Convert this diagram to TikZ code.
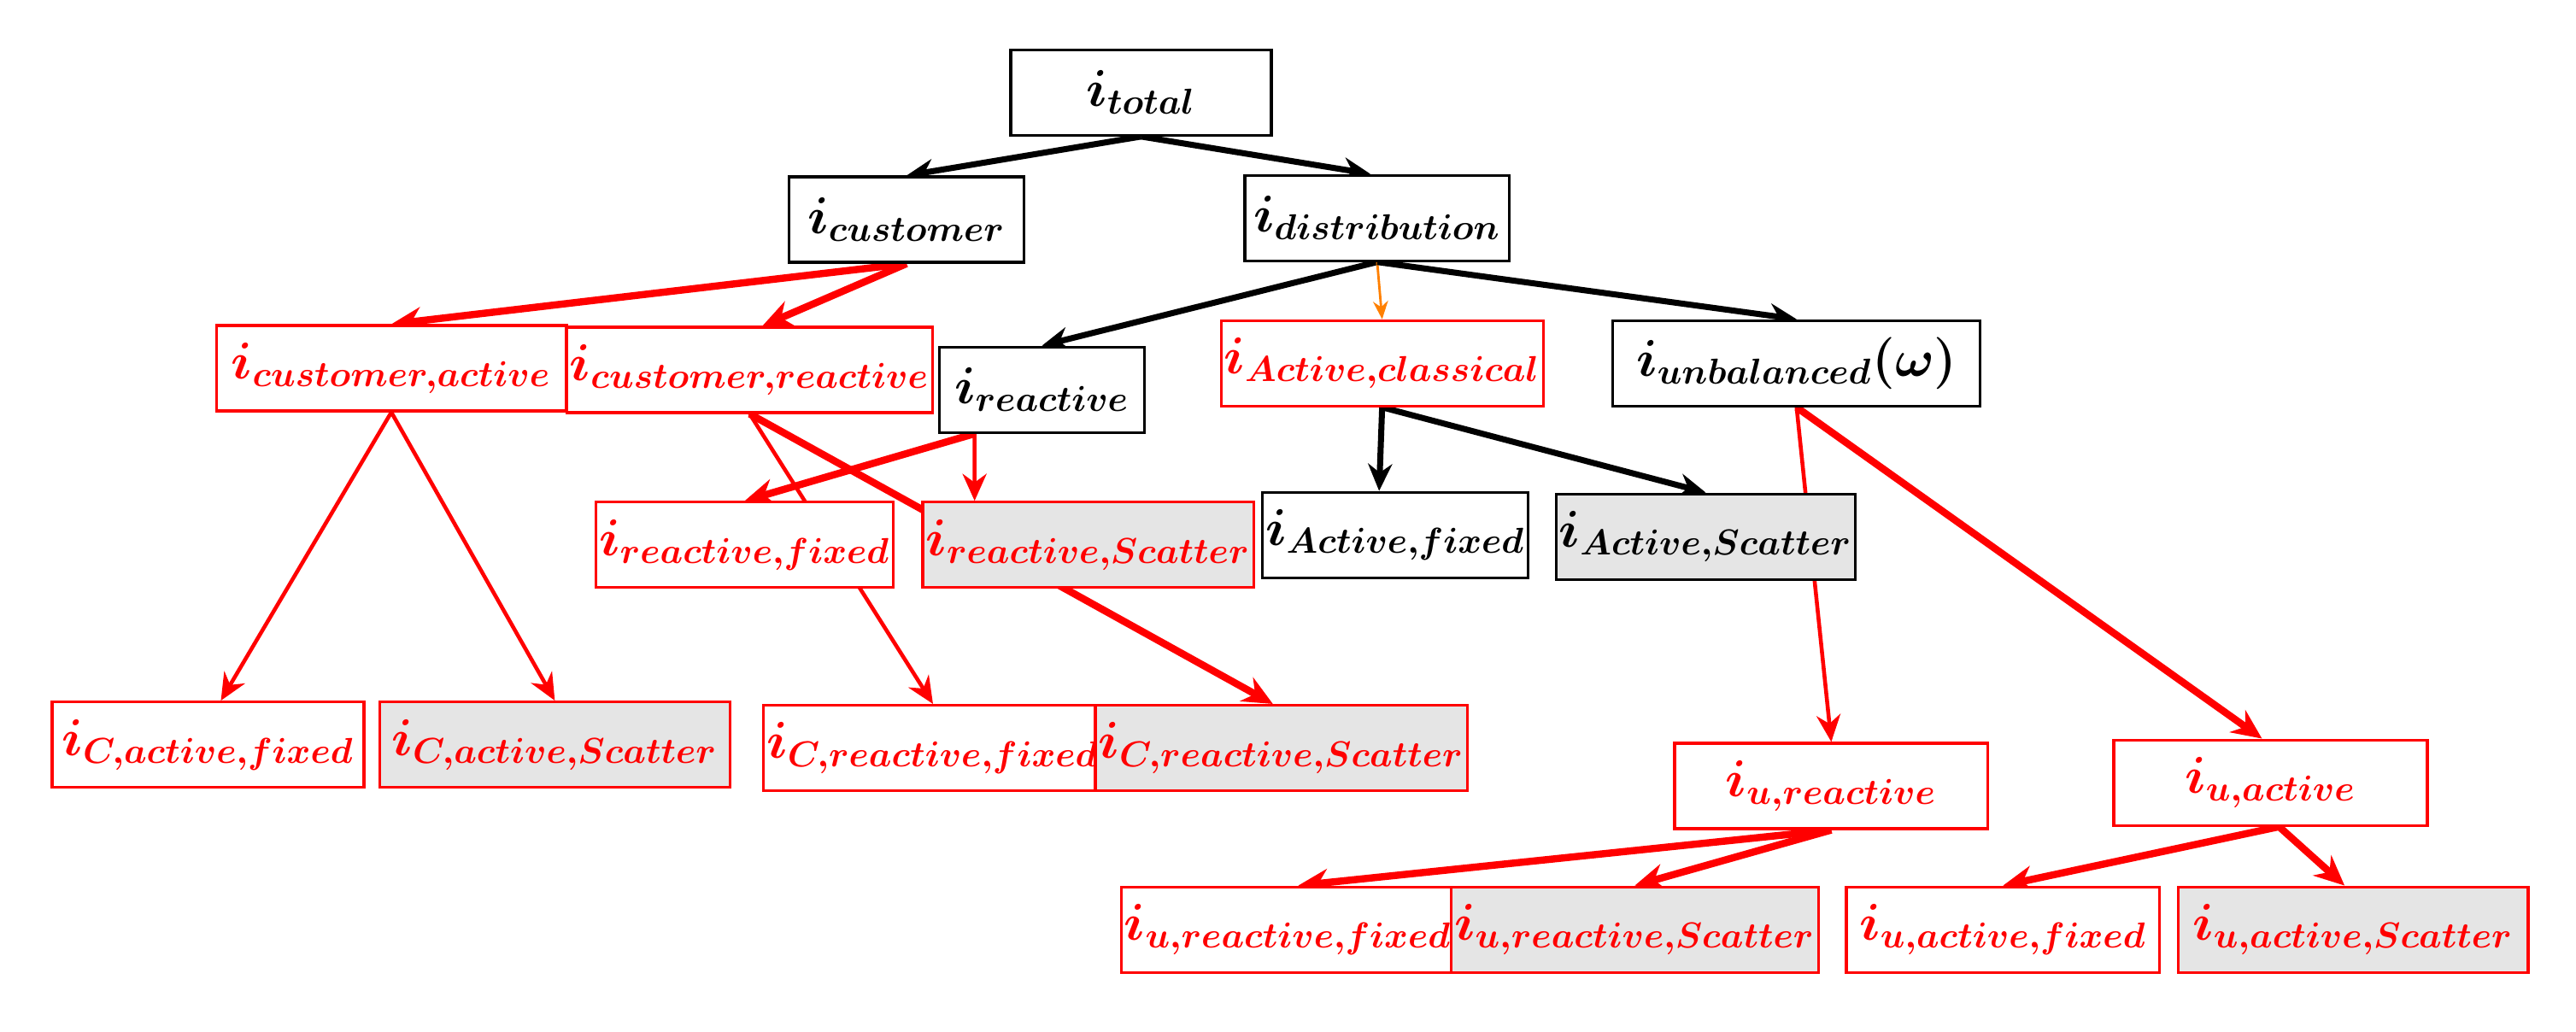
\documentclass[tikz,border=0pt]{standalone}
\usepackage{amsmath,bm}
\usetikzlibrary{arrows.meta}
\pgfdeclarelayer{back}
\pgfsetlayers{back,main}

\begin{document}
\begin{tikzpicture}[
    x=0.01933cm,y=-0.01933cm,
    every node/.style={align=center,font=\LARGE,inner sep=1pt},
    blackbox/.style={rectangle,draw=black,fill=white,line width=0.9pt,minimum height=1cm},
    redbox/.style={rectangle,draw=red,fill=white,text=red,line width=0.9pt,minimum height=1cm},
    grey/.style={fill=black!10},
    arrow/.style={-{Stealth[length=9pt,width=8pt]},line width=2pt},
    redarrow/.style={-{Stealth[length=9pt,width=8pt]},line width=1.3pt,red},
    boldred/.style={-{Stealth[length=10pt,width=9pt]},line width=2.4pt,red}
]
\useasboundingbox (0,0) rectangle (1560,625);

% =====================
% TOP
% =====================
\node[blackbox,minimum width=3.05cm] (total) at (691,56) {$\bm{i_{total}}$};
\node[blackbox,minimum width=2.75cm] (customer) at (549,133) {$\bm{i_{customer}}$};
\node[blackbox,minimum width=3.1cm] (distribution) at (834,132) {$\bm{i_{distribution}}$};

% =====================
% SECOND ROW
% =====================
\node[redbox,minimum width=4.1cm] (custactive) at (237,223) {$\bm{i_{customer,active}}$};
\node[redbox,minimum width=4.1cm] (custreactive) at (454,224) {$\bm{i_{customer,reactive}}$};
\node[blackbox,minimum width=2.4cm] (reactive) at (631,236) {$\bm{i_{reactive}}$};
\node[redbox,minimum width=3.6cm] (activeclassical) at (837,220) {$\bm{i_{Active,classical}}$};
\node[blackbox,minimum width=4.3cm] (unbalanced) at (1088,220) {$\bm{i_{unbalanced}(\omega)}$};

% =====================
% THIRD ROW
% =====================
\node[redbox,minimum width=3.35cm] (reactivefixed) at (451,330) {$\bm{i_{reactive,fixed}}$};
\node[redbox,grey,minimum width=3.7cm] (reactivescatter) at (659,330) {$\bm{i_{reactive,Scatter}}$};
\node[blackbox,minimum width=3cm] (activefixed) at (845,324) {$\bm{i_{Active,fixed}}$};
\node[blackbox,grey,minimum width=3.3cm] (activescatter) at (1033,325) {$\bm{i_{Active,Scatter}}$};

% =====================
% FOURTH ROW
% =====================
\node[redbox,minimum width=3.65cm] (cactivefixed) at (126,451) {$\bm{i_{C,active,fixed}}$};
\node[redbox,grey,minimum width=4.1cm] (cactivescatter) at (336,451) {$\bm{i_{C,active,Scatter}}$};
\node[redbox,minimum width=3.7cm] (creactivefixed) at (565,453) {$\bm{i_{C,reactive,fixed}}$};
\node[redbox,grey,minimum width=4.1cm] (creactivescatter) at (776,453) {$\bm{i_{C,reactive,Scatter}}$};
\node[redbox,minimum width=3.67cm] (ureactive) at (1109,476) {$\bm{i_{u,reactive}}$};
\node[redbox,minimum width=3.67cm] (uactive) at (1375,474) {$\bm{i_{u,active}}$};

% =====================
% BOTTOM ROW
% =====================
\node[redbox,minimum width=3.67cm] (ureactivefixed) at (780,563) {$\bm{i_{u,reactive,fixed}}$};
\node[redbox,grey,minimum width=4.1cm] (ureactivescatter) at (990,563) {$\bm{i_{u,reactive,Scatter}}$};
\node[redbox,minimum width=3.67cm] (uactivefixed) at (1213,563) {$\bm{i_{u,active,fixed}}$};
\node[redbox,grey,minimum width=4.1cm] (uactivescatter) at (1425,563) {$\bm{i_{u,active,Scatter}}$};

% Connections (behind the boxes)
\begin{pgfonlayer}{back}
\draw[arrow] (total.south) -- (customer.north);
\draw[arrow] (total.south) -- ([xshift=-0.08cm]distribution.north);

\draw[boldred] (customer.south) -- (custactive.north);
\draw[boldred] (customer.south) -- ([xshift=0.15cm]custreactive.north);

\draw[arrow] (distribution.south) -- (reactive.north);
\draw[-{Stealth[length=6pt,width=5pt]},orange,line width=0.8pt] (distribution.south) -- (activeclassical.north);
\draw[arrow] (distribution.south) -- (unbalanced.north);

\draw[redarrow] (custactive.south) -- ([xshift=0.15cm]cactivefixed.north);
\draw[redarrow] (custactive.south) -- (cactivescatter.north);
\draw[redarrow] (custreactive.south) -- (creactivefixed.north);
\draw[boldred] (custreactive.south) -- ([xshift=-0.1cm]creactivescatter.north);

\draw[boldred] ([xshift=-0.79cm]reactive.south) -- (reactivefixed.north);
\draw[redarrow] ([xshift=-0.79cm]reactive.south) -- ([xshift=-1.33cm]reactivescatter.north);

\draw[arrow] (activeclassical.south) -- ([xshift=-0.19cm]activefixed.north);
\draw[arrow] (activeclassical.south) -- (activescatter.north);

\draw[redarrow] (unbalanced.south) -- (ureactive.north);
\draw[boldred] (unbalanced.south) -- ([xshift=-0.1cm]uactive.north);

\draw[boldred] (ureactive.south) -- ([xshift=0.12cm]ureactivefixed.north);
\draw[boldred] (ureactive.south) -- (ureactivescatter.north);
\draw[boldred] ([xshift=0.1cm]uactive.south) -- (uactivefixed.north);
\draw[boldred] ([xshift=0.1cm]uactive.south) -- ([xshift=-0.1cm]uactivescatter.north);
\end{pgfonlayer}

\end{tikzpicture}
\end{document}
